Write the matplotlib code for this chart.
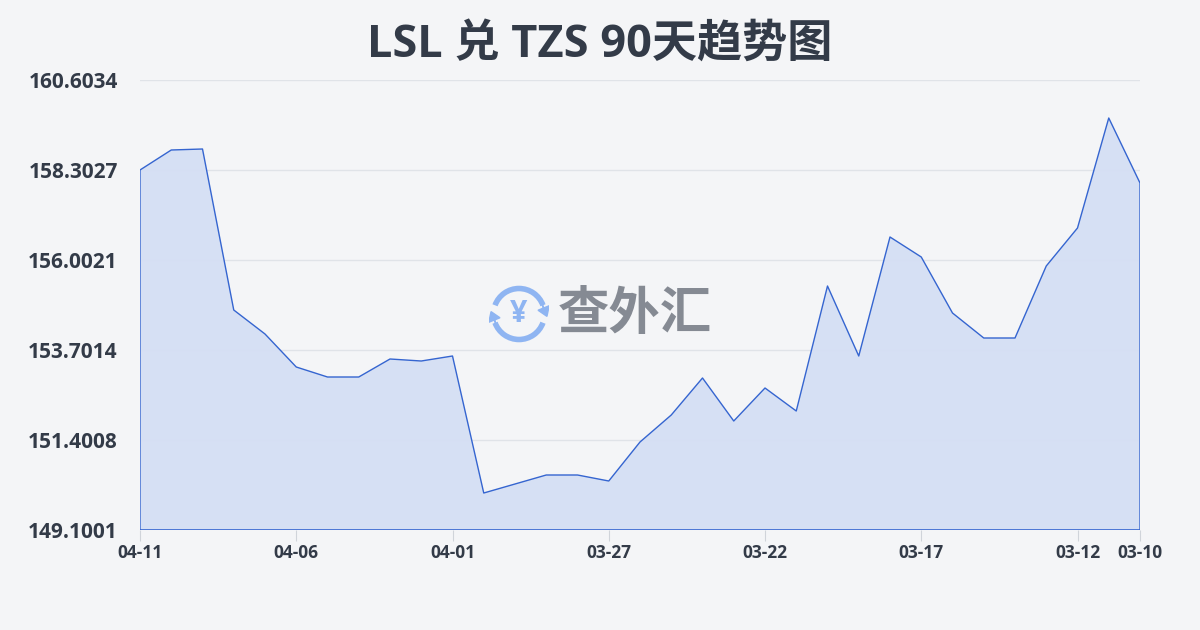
import matplotlib
matplotlib.use("Agg")
import matplotlib.pyplot as plt
from matplotlib.patches import Arc, FancyArrow

plt.rcParams['font.family'] = ['Open Sans', 'Noto Sans CJK SC', 'DejaVu Sans']

# dates from newest (left) to oldest (right)
dates = ['04-11', '04-10', '04-09', '04-08', '04-07', '04-06', '04-05', '04-04',
         '04-03', '04-02', '04-01', '03-31', '03-30', '03-29', '03-28', '03-27',
         '03-26', '03-25', '03-24', '03-23', '03-22', '03-21', '03-20', '03-19',
         '03-18', '03-17', '03-16', '03-15', '03-14', '03-13', '03-12', '03-11',
         '03-10']
rates = [158.3027, 158.814, 158.8396, 154.7239, 154.1104, 153.2668, 153.0112, 153.0112,
         153.4713, 153.4202, 153.548, 150.0459, 150.276, 150.5061, 150.5061, 150.3527,
         151.3496, 152.0398, 152.9857, 151.8865, 152.73, 152.1421, 155.3374, 153.548,
         156.59, 156.0788, 154.6472, 154.0082, 154.0082, 155.8487, 156.8201, 159.632,
         157.9704]
yticks = [149.1001, 151.4008, 153.7014, 156.0021, 158.3027, 160.6034]
xtick_labels = ['04-11', '04-06', '04-01', '03-27', '03-22', '03-17', '03-12', '03-10']

bg = '#f4f5f7'
line_c = '#3565d0'
fill_c = '#d5dff4'
text_c = '#333b48'

fig = plt.figure(figsize=(12, 6.3), dpi=100, facecolor=bg)
ax = fig.add_axes([140/1200, 1-530/630, 1000/1200, 450/630], facecolor=bg)

x = list(range(len(rates)))
ax.fill_between(x, rates, yticks[0], facecolor=fill_c, edgecolor='none', alpha=0.95)
ax.plot([x[0]] + x + [x[-1]], [yticks[0]] + rates + [yticks[0]], color=line_c, lw=1)
ax.plot([x[0], x[-1]], [yticks[0], yticks[0]], color=line_c, lw=1.2)

ax.set_xlim(0, len(rates) - 1)
ax.set_ylim(yticks[0], yticks[-1])
ax.set_yticks(yticks)
ax.set_yticklabels(['%.4f' % v for v in yticks], fontsize=15, fontweight='bold', color=text_c)
ax.set_xticks([dates.index(d) for d in xtick_labels])
ax.set_xticklabels(xtick_labels, fontsize=12.5, fontweight='bold', color=text_c)
ax.tick_params(axis='y', length=0, pad=16)
ax.tick_params(axis='x', length=8, color='#d0d4da', pad=2)
ax.grid(axis='y', color='#e0e3e8', lw=1)
ax.set_axisbelow(True)
for s in ax.spines.values():
    s.set_visible(False)

fig.text(0.5, 1-45/630, 'LSL 兑 TZS 90天趋势图', ha='center', va='center',
         fontsize=32.5, fontweight='bold', color=text_c)

# watermark
fig.text(558/1200, 1-314/630, '查外汇', ha='left', va='center', fontsize=37,
         fontweight='bold', color='#858a93', family='Noto Sans CJK SC')
lax = fig.add_axes([489/1200, 1-344/630, 60/1200, 60/630])
lax.set_xlim(-1, 1)
lax.set_ylim(-1, 1)
lax.axis('off')
lax.patch.set_alpha(0)
logo_c = '#8fb5f2'
lax.add_patch(Arc((0, 0), 1.7, 1.7, theta1=20, theta2=160, color=logo_c, lw=4))
lax.add_patch(Arc((0, 0), 1.7, 1.7, theta1=200, theta2=340, color=logo_c, lw=4))
lax.add_patch(FancyArrow(0.72, 0.45, 0.1, -0.25, width=0.01, head_width=0.4,
                         head_length=0.3, color=logo_c))
lax.add_patch(FancyArrow(-0.72, -0.45, -0.1, 0.25, width=0.01, head_width=0.4,
                         head_length=0.3, color=logo_c))
lax.text(0, 0, '¥', ha='center', va='center', fontsize=22, fontweight='bold', color=logo_c)

fig.savefig('out.png', dpi=100, facecolor=bg)
